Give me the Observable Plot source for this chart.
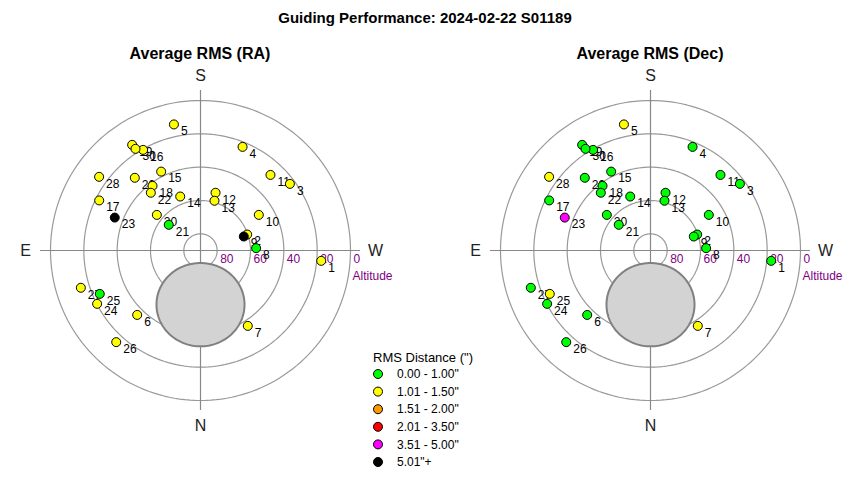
<!DOCTYPE html>
<html><head><meta charset="utf-8">
<script src="https://cdn.jsdelivr.net/npm/d3@7"></script>
<script src="https://cdn.jsdelivr.net/npm/@observablehq/plot@0.6"></script>
<style>
body{margin:0;background:#fff;font-family:"Liberation Sans",Arial,sans-serif;}
#wrap{position:relative;width:850px;height:480px;overflow:hidden;background:#fff;}
.abs{position:absolute;}
.title{left:0;width:850px;top:9px;text-align:center;font-weight:bold;font-size:15px;color:#000;}
.sub{width:300px;top:45px;text-align:center;font-weight:bold;font-size:16px;color:#000;}
</style></head><body><div id="wrap"></div>
<script>
// ---- data ----
const pointLabels = ["1","2","3","4","5","6","7","8","9","10","11","12","13","14","15","16","17","18","19","20","21","22","23","24","25","26","27","28","29","30"];
const altitudes = [17.3,60.4,23.1,22.9,12.7,35.8,36.6,56.6,62.7,49.0,28.2,54.2,59.0,55.4,37.1,20.5,22.2,41.7,14.5,56.2,65.5,44.3,34.9,20.2,24.2,15.3,14.8,14.8,31.2,17.6];
const azimuths = [274.9,251.1,233.3,202.1,168.1,44.5,327.9,267.6,252.1,238.6,222.8,194.6,195.7,159.4,153.5,150.3,116.3,143.4,147.1,129.2,129.0,139.3,111.0,62.7,66.7,42.6,72.7,126.0,137.9,147.4];
const raBins  = [1,1,1,1,1,1,1,0,5,1,1,1,1,1,1,1,1,1,1,1,0,1,5,1,0,1,1,1,1,1];
const decBins = [0,0,0,0,1,0,1,0,0,0,0,0,0,0,0,0,0,0,0,0,0,0,4,0,1,0,0,1,0,0];
const binLabels = ["0.00 - 1.00\"","1.01 - 1.50\"","1.51 - 2.00\"","2.01 - 3.50\"","3.51 - 5.00\"","5.01\"+"];
const binColors = ["#00ff00","#ffff00","#ff9900","#ff0000","#ff00ff","#000000"];
const ringAltitudes = [80,60,40,20,0];
const compassNames = ["S","N","E","W"];
const compassAz = [180,0,90,270];
const moonAlt = 57.5, moonAz = 0, moonRadius = 25;
const chartTitle = "Guiding Performance: 2024-02-22 S01189";
const panelTitles = ["Average RMS (RA)","Average RMS (Dec)"];
const legendTitle = "RMS Distance (\")";

// ---- helpers ----
function toXY(alt, az){const r=90-alt,a=az*Math.PI/180;return {x:-r*Math.sin(a),y:-r*Math.cos(a)};}
const ringPts = [];
ringAltitudes.forEach(alt=>{for(let az=0;az<360;az+=2){ringPts.push({alt,...toXY(alt,az)});}});
const moonPts = d3.geoCircle().center([moonAz,moonAlt]).radius(moonRadius).precision(2)().coordinates[0]
  .map(([lon,lat])=>toXY(lat,lon));
const compass = compassNames.map((n,i)=>({n,...toXY(90-105,compassAz[i])}));
const FONT='"Liberation Sans",Arial,sans-serif';

function polar(bins){
  const pts = pointLabels.map((l,i)=>({label:l,bin:bins[i],color:binColors[bins[i]],...toXY(altitudes[i],azimuths[i])}));
  return Plot.plot({
    width:400,height:360,margin:0,
    x:{domain:[-120,120],axis:null},
    y:{domain:[-108,108],axis:null},
    color:{type:"identity"},
    style:{fontFamily:FONT,background:"transparent",overflow:"visible"},
    marks:[
      Plot.line(ringPts,{x:"x",y:"y",z:"alt",stroke:"#999",strokeWidth:1.2,curve:"linear-closed"}),
      Plot.ruleX([0],{y1:-96,y2:96,stroke:"#888",strokeWidth:1.2}),
      Plot.ruleY([0],{x1:-96,x2:96,stroke:"#888",strokeWidth:1.2}),
      Plot.line(moonPts,{x:"x",y:"y",fill:"#d3d3d3",stroke:"#808080",strokeWidth:2,curve:"linear-closed"}),
      Plot.text(ringAltitudes,{x:d=>90-d,y:()=>0,text:d=>String(d),dx:3,dy:9,textAnchor:"start",fill:"#800080",fontSize:12}),
      Plot.text([{x:90,y:0,t:"Altitude"}],{x:"x",y:"y",text:"t",dx:2,dy:26,textAnchor:"start",fill:"#800080",fontSize:12}),
      Plot.text(compass,{x:"x",y:"y",text:"n",fontSize:16,fill:"#222"}),
      Plot.text(pts,{x:"x",y:"y",text:"label",dx:7,dy:7,textAnchor:"start",fontSize:12,fill:"#000"}),
      Plot.dot(pts,{x:"x",y:"y",r:4.5,fill:"color",stroke:"#000",strokeWidth:1})
    ]
  });
}

const wrap = d3.select("#wrap");
wrap.append("div").attr("class","abs title").text(chartTitle);
[0,450].forEach((left,i)=>{
  wrap.append("div").attr("class","abs sub").style("left",(left+50)+"px").text(panelTitles[i]);
  const svg = polar(i===0?raBins:decBins);
  svg.style.position="absolute";svg.style.left=left+"px";svg.style.top="70px";
  wrap.node().appendChild(svg);
});

// legend
const lg = wrap.append("svg").attr("class","abs").style("left","366px").style("top","345px")
  .attr("width",130).attr("height",130).style("font-family",FONT);
lg.append("text").attr("x",7).attr("y",12).attr("dy","0.35em").attr("font-size",13).text(legendTitle);
binLabels.forEach((l,i)=>{
  const y=29+i*17.6;
  lg.append("circle").attr("cx",12).attr("cy",y).attr("r",4.5).attr("fill",binColors[i]).attr("stroke","#000");
  lg.append("text").attr("x",31).attr("y",y).attr("dy","0.35em").attr("font-size",12).text(l);
});
</script></body></html>
